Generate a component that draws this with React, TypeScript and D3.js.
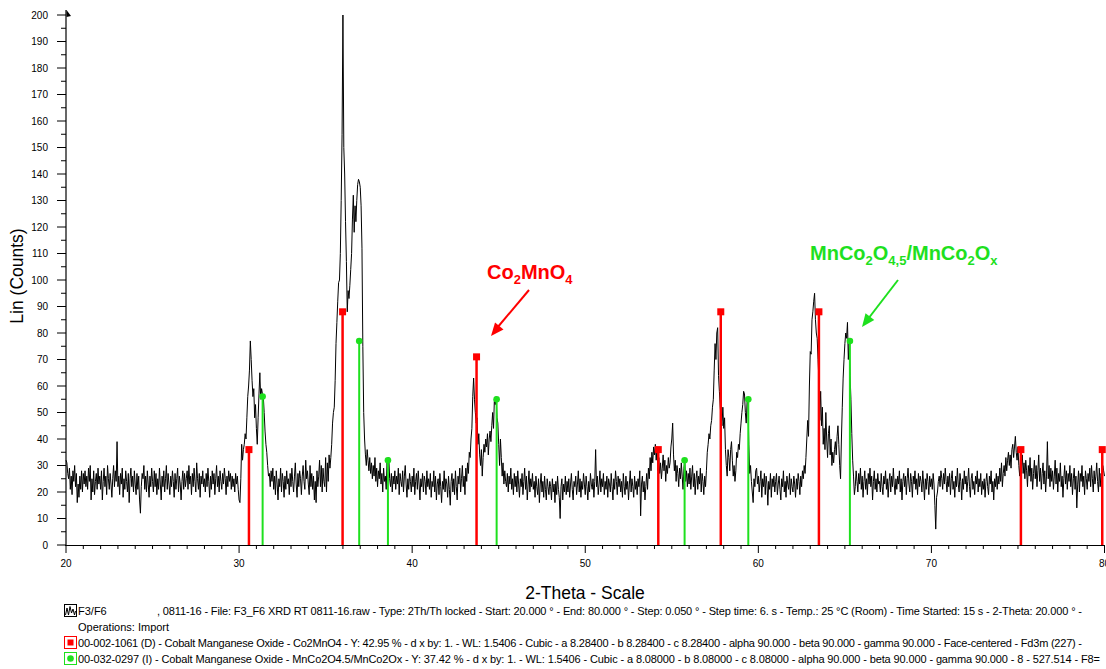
import React from 'react';
import * as d3 from 'd3';

// ---- Data ----
const START_2THETA = 20;
const STEP_2THETA = 0.05;
// measured counts, one row per degree (20 steps of 0.05 deg)
const counts: number[] = [
  32,31,27,25,29,21,26,19,28,24,30,22,27,16,23,18,26,21,28,20, // 20
  27,23,28,22,26,21,29,24,30,17,25,20,28,19,24,27,21,29,23,26, // 21
  21,28,17,24,29,22,26,19,30,25,21,27,23,18,25,30,22,28,24,39, // 22
  22,26,19,27,23,29,18,25,21,28,24,20,27,16,25,29,22,26,20,28, // 23
  23,19,27,21,26,17,12,22,27,25,30,21,26,20,28,23,18,26,22,29, // 24
  24,20,28,22,27,19,25,21,29,23,17,26,22,28,20,25,30,21,27,23, // 25
  19,26,22,28,24,18,27,21,25,29,20,26,23,17,24,28,21,27,22,25, // 26
  28,21,30,23,26,19,27,22,29,24,20,31,25,21,27,18,26,23,28,22, // 27
  25,20,27,22,29,24,18,26,21,28,23,27,19,25,30,22,26,20,28,24, // 28
  21,27,23,29,25,19,26,22,28,24,27,21,26,22,25,20,27,23,26,21, // 29
  17,16,25,38,32,36,38,42,40,48,56,60,66,77,70,62,56,59,48,53, // 30
  44,38,48,57,65,55,59,57,56,50,43,38,35,30,26,27,22,28,24,29, // 31
  21,26,19,28,23,17,25,22,29,20,27,24,18,26,21,28,23,25,19,27, // 32
  22,29,24,20,26,31,23,18,27,22,28,25,19,26,30,24,21,32,25,28, // 33
  23,19,30,22,27,21,26,17,24,16,28,22,26,32,22,30,20,29,24,22, // 34
  33,20,31,24,34,29,33,38,46,50,52,62,76,84,92,99,100,110,130,155, // 35
  200,150,140,122,107,88,96,93,98,104,110,123,132,118,128,122,130,136,138,137, // 36
  135,128,112,75,50,40,34,30,36,32,28,33,27,31,25,30,26,33,24,29, // 37
  22,28,25,31,23,27,20,29,24,26,21,32,28,33,25,22,27,20,26,23, // 38
  28,21,26,23,29,19,27,24,22,28,20,26,30,23,18,25,21,27,24,20, // 39
  26,22,29,19,24,27,21,28,23,17,25,22,27,20,26,24,19,28,22,25, // 40
  21,27,18,24,22,28,20,26,17,23,25,19,27,22,16,24,21,28,20,25, // 41
  23,18,26,21,15,24,27,20,25,19,28,22,17,26,23,29,20,25,30,22, // 42
  26,19,29,24,31,27,35,33,40,44,56,63,55,50,46,48,38,42,34,30, // 43
  36,26,33,38,35,40,37,42,34,40,43,39,45,50,44,55,53,56,48,46, // 44
  38,30,40,33,26,31,23,28,24,22,27,20,26,23,29,21,25,19,27,22, // 45
  26,20,28,23,18,25,22,27,19,24,29,21,26,17,23,28,20,25,22,27, // 46
  21,24,18,26,22,19,25,16,23,27,20,24,18,26,21,17,25,22,19,24, // 47
  22,17,25,20,23,16,24,19,26,21,18,10,22,25,17,23,20,26,19,24, // 48
  20,25,18,23,27,21,17,24,22,26,19,23,28,20,25,18,24,21,27,23, // 49
  19,26,22,17,24,20,27,23,21,25,18,24,36,22,26,19,23,28,20,25, // 50
  22,27,19,24,21,26,18,25,23,20,27,22,17,25,21,28,24,19,26,22, // 51
  25,20,24,18,27,22,19,26,21,24,17,23,28,20,25,22,18,26,21,24, // 52
  19,25,22,28,11,23,26,20,24,17,22,27,21,29,25,33,28,35,31,37, // 53
  34,38,32,37,28,33,27,31,25,29,34,28,32,24,30,27,33,29,31,37, // 54
  40,46,34,28,32,24,30,27,22,29,25,31,26,21,29,32,24,28,22,27, // 55
  23,29,21,26,30,22,27,19,25,28,21,26,23,29,20,27,24,19,26,22, // 56
  28,35,38,42,40,45,47,52,55,66,76,70,80,82,64,58,52,48,45,52, // 57
  44,48,36,30,26,36,33,28,36,39,32,26,30,24,28,35,33,38,36,42, // 58
  46,50,53,58,57,50,46,54,55,38,27,30,24,20,16,25,22,28,29,23, // 59
  26,20,24,28,18,25,22,27,19,26,23,15,24,21,27,18,25,22,26,20, // 60
  24,27,19,23,26,21,17,25,22,28,20,24,18,26,23,21,27,19,25,22, // 61
  20,26,23,18,25,21,27,24,19,26,22,28,25,30,27,33,40,47,41,60, // 62
  73,72,85,88,92,95,85,80,78,70,62,47,58,45,52,38,44,36,50,40, // 63
  33,42,45,34,40,30,35,31,36,39,34,41,45,38,30,25,40,52,63,70, // 64
  76,80,78,84,70,76,64,55,42,32,26,19,22,28,24,20,27,23,29,21, // 65
  26,18,24,28,21,25,19,27,23,29,22,26,17,24,28,21,25,20,27,23, // 66
  24,20,27,22,19,26,23,28,21,25,18,24,27,20,26,22,29,23,19,25, // 67
  21,26,23,28,20,25,17,24,27,22,26,19,25,29,23,20,27,24,18,26, // 68
  23,28,21,25,19,27,22,26,24,20,28,23,17,25,21,27,24,19,26,22, // 69
  25,21,27,23,15,6,18,20,24,26,22,28,25,21,27,23,29,24,20,26, // 70
  22,27,19,25,28,21,24,18,26,22,29,23,20,27,24,17,25,21,28,23, // 71
  26,20,24,29,22,18,25,27,21,24,19,26,23,28,20,25,22,27,19,24, // 72
  21,25,18,24,27,22,19,26,23,28,20,24,17,25,22,27,21,26,23,29, // 73
  24,31,22,27,30,26,33,28,32,35,30,34,29,36,38,33,37,41,35,32, // 74
  37,30,26,33,29,34,27,31,25,32,28,22,30,26,33,24,29,21,27,32, // 75
  25,30,22,28,34,24,29,21,27,31,23,28,20,26,39,25,30,22,29,24, // 76
  28,21,26,32,23,29,20,27,24,31,22,26,18,25,30,23,28,21,27,24, // 77
  30,22,27,19,25,29,21,26,14,23,28,20,27,24,30,22,26,19,28,25, // 78
  21,27,24,29,22,30,25,20,28,23,26,31,24,20,29,22,27,25,30,28, // 79
  26, // 80
];

// Reference pattern 00-002-1061 Co2MnO4
const co2mno4Pos = [30.57, 35.98, 43.72, 54.22, 57.83, 63.5, 75.17, 79.87];
const co2mno4Int = [36, 88, 71, 36, 88, 88, 36, 36];
// Reference pattern 00-032-0297 MnCo2O4.5
const mnco2o4Pos = [31.36, 36.94, 38.6, 44.88, 55.74, 59.42, 65.29];
const mnco2o4Int = [56, 77, 32, 55, 32, 55, 77];

const xTicks = [20, 30, 40, 50, 60, 70, 80];
const yTicks = [0, 10, 20, 30, 40, 50, 60, 70, 80, 90, 100, 110, 120, 130, 140, 150, 160, 170, 180, 190, 200];

const legendLine1a = 'F3/F6';
const legendLine1b = ', 0811-16 - File: F3_F6 XRD RT 0811-16.raw - Type: 2Th/Th locked - Start: 20.000 ° - End: 80.000 ° - Step: 0.050 ° - Step time: 6. s - Temp.: 25 °C (Room) - Time Started: 15 s - 2-Theta: 20.000 ° -';
const legendLine2 = 'Operations: Import';
const legendLine3 = '00-002-1061 (D) - Cobalt Manganese Oxide - Co2MnO4 - Y: 42.95 % - d x by: 1. - WL: 1.5406 - Cubic - a 8.28400 - b 8.28400 - c 8.28400 - alpha 90.000 - beta 90.000 - gamma 90.000 - Face-centered - Fd3m (227) -';
const legendLine4 = '00-032-0297 (I) - Cobalt Manganese Oxide - MnCo2O4.5/MnCo2Ox - Y: 37.42 % - d x by: 1. - WL: 1.5406 - Cubic - a 8.08000 - b 8.08000 - c 8.08000 - alpha 90.000 - beta 90.000 - gamma 90.000 - 8 - 527.514 - F8=';

const RED = '#ff0000';
const GREEN = '#1ee01e';
const FONT = '"Liberation Sans", Arial, Helvetica, sans-serif';

function arrowHead(x1: number, y1: number, x2: number, y2: number, len = 13, half = 5.5) {
  const dx = x2 - x1, dy = y2 - y1;
  const L = Math.hypot(dx, dy);
  const ux = dx / L, uy = dy / L;
  const bx = x2 - ux * len, by = y2 - uy * len;
  const px = -uy * half, py = ux * half;
  return `M${x2},${y2}L${bx + px},${by + py}L${bx - px},${by - py}Z`;
}

export default function App() {
  const W = 1106, H = 669;
  const x = d3.scaleLinear().domain([20, 80]).range([66, 1104.5]);
  const y = d3.scaleLinear().domain([0, 200]).range([545, 15]);

  const pts: [number, number][] = counts.map((c, i) => [START_2THETA + i * STEP_2THETA, c]);
  const line = d3.line<[number, number]>().x(d => x(d[0])).y(d => y(d[1]));

  const minorX = d3.range(20, 81, 1);
  const minorY = d3.range(5, 200, 10);

  return (
    <svg width={W} height={H} style={{ position: 'absolute', left: 0, top: 0, display: 'block', background: '#fff' }}
      fontFamily={FONT}>
      <rect x={0} y={0} width={W} height={H} fill="#fff" />
      {/* data */}
      <path d={line(pts) || ''} fill="none" stroke="#000" strokeWidth={1} strokeLinejoin="round" />

      {/* reference sticks */}
      {co2mno4Pos.map((p, i) => (
        <g key={'r' + i}>
          <line x1={x(p)} x2={x(p)} y1={y(0)} y2={y(co2mno4Int[i])} stroke={RED} strokeWidth={2.5} />
          <rect x={x(p) - 3.5} y={y(co2mno4Int[i]) - 3.5} width={7} height={7} fill={RED} />
        </g>
      ))}
      {mnco2o4Pos.map((p, i) => (
        <g key={'g' + i}>
          <line x1={x(p)} x2={x(p)} y1={y(0)} y2={y(mnco2o4Int[i])} stroke={GREEN} strokeWidth={2} />
          <circle cx={x(p)} cy={y(mnco2o4Int[i])} r={3.3} fill={GREEN} />
        </g>
      ))}

      {/* axes */}
      <line x1={66} x2={66} y1={10} y2={546} stroke="#000" strokeWidth={1.2} />
      <path d="M66.5,10 L71,16 L66.5,17 Z" fill="#000" />
      <line x1={65} x2={1104.5} y1={545.5} y2={545.5} stroke="#000" strokeWidth={1.2} />
      {yTicks.map(t => (
        <g key={'yt' + t}>
          <line x1={57} x2={66} y1={y(t)} y2={y(t)} stroke="#000" strokeWidth={1} />
          <text x={48} y={y(t) + 3.5} fontSize={10} textAnchor="end" fill="#000">{t}</text>
        </g>
      ))}
      {minorY.map(t => (
        <line key={'ym' + t} x1={61} x2={66} y1={y(t)} y2={y(t)} stroke="#000" strokeWidth={1} />
      ))}
      {minorX.map(t => (
        <line key={'xm' + t} x1={x(t)} x2={x(t)} y1={545} y2={t % 10 === 0 ? 553 : 549} stroke="#000" strokeWidth={1} />
      ))}
      {xTicks.map(t => (
        <text key={'xt' + t} x={x(t)} y={567} fontSize={10} textAnchor="middle" fill="#000">{t}</text>
      ))}

      {/* axis titles */}
      <text x={585} y={599} fontSize={17.5} textAnchor="middle" fill="#000">2-Theta - Scale</text>
      <text transform="translate(23,276) rotate(-90)" fontSize={17.5} textAnchor="middle" fill="#000">Lin (Counts)</text>

      {/* annotations */}
      <text x={487} y={279} fontSize={20} fontWeight="bold" fill={RED}>
        Co<tspan fontSize={13} dy={5}>2</tspan><tspan dy={-5}>MnO</tspan><tspan fontSize={13} dy={5}>4</tspan>
      </text>
      <line x1={529} y1={290} x2={497} y2={328} stroke={RED} strokeWidth={2} />
      <path d={arrowHead(529, 290, 491, 336)} fill={RED} />

      <text x={810} y={260} fontSize={20} fontWeight="bold" fill={GREEN}>
        MnCo<tspan fontSize={13} dy={5}>2</tspan><tspan dy={-5}>O</tspan><tspan fontSize={13} dy={5}>4,5</tspan><tspan dy={-5}>/MnCo</tspan><tspan fontSize={13} dy={5}>2</tspan><tspan dy={-5}>O</tspan><tspan fontSize={13} dy={5}>x</tspan>
      </text>
      <line x1={898} y1={280} x2={868} y2={319} stroke={GREEN} strokeWidth={2} />
      <path d={arrowHead(898, 280, 862, 327)} fill={GREEN} />

      {/* legend */}
      <rect x={64.5} y={604.5} width={12} height={12} fill="#fff" stroke="#000" strokeWidth={1} />
      <path d="M65.5,615 L67,608 L68.5,615 L70,606.5 L71.5,613 L73,609 L74.5,615 L75.5,611" fill="none" stroke="#000" strokeWidth={1} />
      <text x={78} y={615} fontSize={11} fill="#000">{legendLine1a}</text>
      <text x={157} y={615} fontSize={11} fill="#000" textLength={925} lengthAdjust="spacing">{legendLine1b}</text>
      <text x={78} y={631} fontSize={11} fill="#000">{legendLine2}</text>

      <rect x={64.5} y={636.5} width={12} height={12} fill="#fff" stroke={RED} strokeWidth={1} />
      <rect x={67.5} y={639.5} width={6} height={6} fill={RED} />
      <text x={78} y={647} fontSize={11} fill="#000" textLength={1004} lengthAdjust="spacing">{legendLine3}</text>

      <rect x={64.5} y={652.5} width={12} height={12} fill="#fff" stroke={GREEN} strokeWidth={1} />
      <circle cx={70.5} cy={658.5} r={3.3} fill={GREEN} />
      <text x={78} y={663} fontSize={11} fill="#000" textLength={1022} lengthAdjust="spacing">{legendLine4}</text>
    </svg>
  );
}
